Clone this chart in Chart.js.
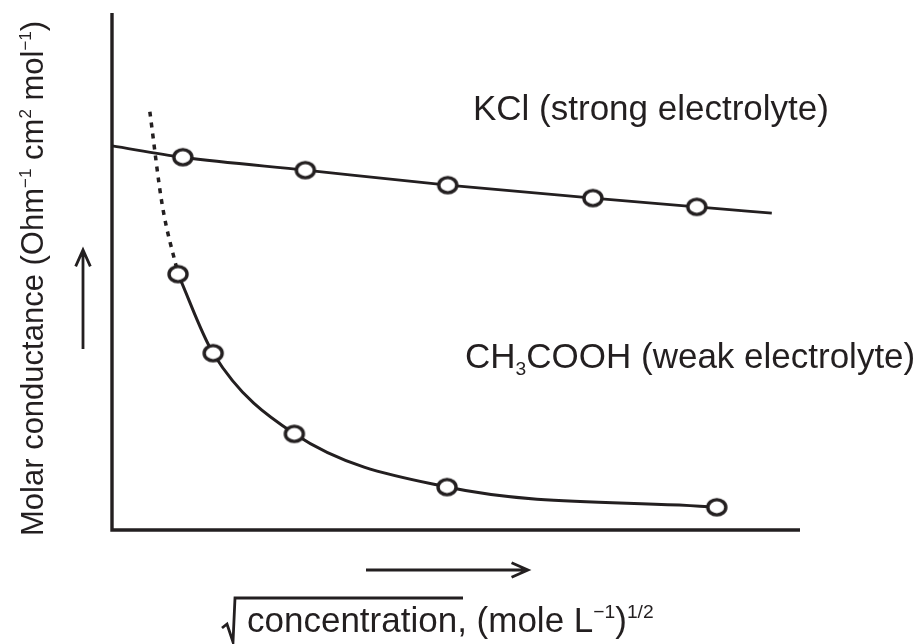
<!DOCTYPE html>
<html>
<head>
<meta charset="utf-8">
<script src="https://cdn.jsdelivr.net/npm/chart.js@4"></script>
<style>
    body { margin: 0; background: #fff; }
    #wrap { width: 924px; height: 644px; }
</style>
</head>
<body>
<div id="wrap"><canvas id="chart" width="924" height="644"></canvas></div>
<script>
// values (x: sqrt concentration, y: molar conductance, both 0-100 arbitrary units)
const kclX = [0, 10.3, 28.1, 48.8, 69.9, 85.0, 95.9];
const kclY = [74.3, 72.1, 69.6, 66.7, 64.2, 62.5, 61.3];
const kclMarked = [false, true, true, true, true, true, false];

const aceticX = [9.6, 14.7, 26.5, 48.7, 87.9];
const aceticY = [49.5, 34.2, 18.6, 8.3, 4.4];

// dotted extrapolation towards zero concentration
const extrapX = [5.5, 7.3, 9.6];
const extrapY = [80.9, 62.9, 49.5];

const ink = '#231f20';
const fontFam = "Arial, 'Liberation Sans', sans-serif";

// open ring marker, slightly wider than tall like the original
const ring = document.createElement('canvas');
ring.width = 24; ring.height = 21;
(function () {
    const c = ring.getContext('2d');
    c.beginPath();
    c.ellipse(12, 10.5, 9, 7.6, 0, 0, Math.PI * 2);
    c.fillStyle = '#fff';
    c.fill();
    c.lineWidth = 3.4;
    c.strokeStyle = ink;
    c.stroke();
})();

const toPts = (xs, ys) => xs.map((x, i) => ({ x: x, y: ys[i] }));

// text with sub/superscripts, parts = [[text, mode], ...]
function drawRich(ctx, parts, x, y, size) {
    parts.forEach(([t, mode]) => {
        let s = size, dy = 0;
        if (mode === 'sup') { s = size * 0.55; dy = -size * 0.4; }
        if (mode === 'sub') { s = size * 0.55; dy = size * 0.2; }
        ctx.font = s + 'px ' + fontFam;
        ctx.fillText(t, x, y + dy);
        x += ctx.measureText(t).width;
    });
    return x;
}

function arrow(ctx, x1, y1, x2, y2) {
    const a = Math.atan2(y2 - y1, x2 - x1), h = 18, w = 0.42;
    ctx.beginPath();
    ctx.moveTo(x1, y1); ctx.lineTo(x2, y2);
    ctx.moveTo(x2 - h * Math.cos(a - w), y2 - h * Math.sin(a - w));
    ctx.lineTo(x2, y2);
    ctx.lineTo(x2 - h * Math.cos(a + w), y2 - h * Math.sin(a + w));
    ctx.stroke();
}

const decor = {
    id: 'decor',
    beforeDatasetsDraw(chart) {
        const ctx = chart.ctx, a = chart.chartArea;
        ctx.save();
        ctx.strokeStyle = ink;
        ctx.lineWidth = 3.4;
        ctx.beginPath();
        ctx.moveTo(a.left, a.top);
        ctx.lineTo(a.left, a.bottom);
        ctx.lineTo(a.right, a.bottom);
        ctx.stroke();
        ctx.restore();
    },
    afterDraw(chart) {
        const ctx = chart.ctx;
        ctx.save();
        ctx.fillStyle = ink;
        ctx.strokeStyle = ink;
        ctx.textBaseline = 'alphabetic';
        ctx.textAlign = 'left';

        drawRich(ctx, [['KCl (strong electrolyte)', '']], 473, 120, 35);
        drawRich(ctx, [['CH', ''], ['3', 'sub'], ['COOH (weak electrolyte)', '']], 465, 368, 35);

        // y axis title
        ctx.save();
        ctx.translate(43, 536);
        ctx.rotate(-Math.PI / 2);
        drawRich(ctx, [['Molar conductance (Ohm', ''], ['\u22121', 'sup'], [' cm', ''], ['2', 'sup'],
            [' mol', ''], ['\u22121', 'sup'], [')', '']], 0, 0, 31);
        ctx.restore();

        // x axis title with square root sign
        drawRich(ctx, [['concentration, (mole L', ''], ['\u22121', 'sup'], [')', ''], ['1/2', 'sup']], 247, 632, 35);
        ctx.lineWidth = 2.8;
        ctx.beginPath();
        ctx.moveTo(222, 628);
        ctx.lineTo(227, 624);
        ctx.lineTo(233, 642);
        ctx.lineTo(235, 598);
        ctx.lineTo(463, 598);
        ctx.stroke();

        // direction arrows
        ctx.lineWidth = 2.8;
        arrow(ctx, 83, 349, 83, 250);
        arrow(ctx, 366, 570, 528, 570);
        ctx.restore();
    }
};

new Chart(document.getElementById('chart'), {
    type: 'scatter',
    data: {
        datasets: [
            {
                label: 'KCl',
                data: toPts(kclX, kclY),
                showLine: true,
                borderColor: ink,
                borderWidth: 2.8,
                cubicInterpolationMode: 'monotone',
                pointStyle: ring,
                pointRadius: kclMarked.map(m => m ? 10 : 0),
                order: 1
            },
            {
                label: 'CH3COOH',
                data: toPts(aceticX, aceticY),
                showLine: true,
                borderColor: ink,
                borderWidth: 3,
                cubicInterpolationMode: 'monotone',
                pointStyle: ring,
                pointRadius: 10,
                order: 1
            },
            {
                label: 'extrapolation',
                data: toPts(extrapX, extrapY),
                showLine: true,
                borderColor: ink,
                borderWidth: 3.5,
                borderDash: [5, 6],
                cubicInterpolationMode: 'monotone',
                pointRadius: 0,
                order: 2
            }
        ]
    },
    options: {
        responsive: false,
        animation: false,
        devicePixelRatio: 1,
        layout: { padding: { left: 112, top: 13, right: 124, bottom: 114 } },
        plugins: { legend: { display: false }, tooltip: { enabled: false } },
        scales: {
            x: { type: 'linear', min: 0, max: 100, display: false },
            y: { type: 'linear', min: 0, max: 100, display: false }
        }
    },
    plugins: [decor]
});
</script>
</body>
</html>
